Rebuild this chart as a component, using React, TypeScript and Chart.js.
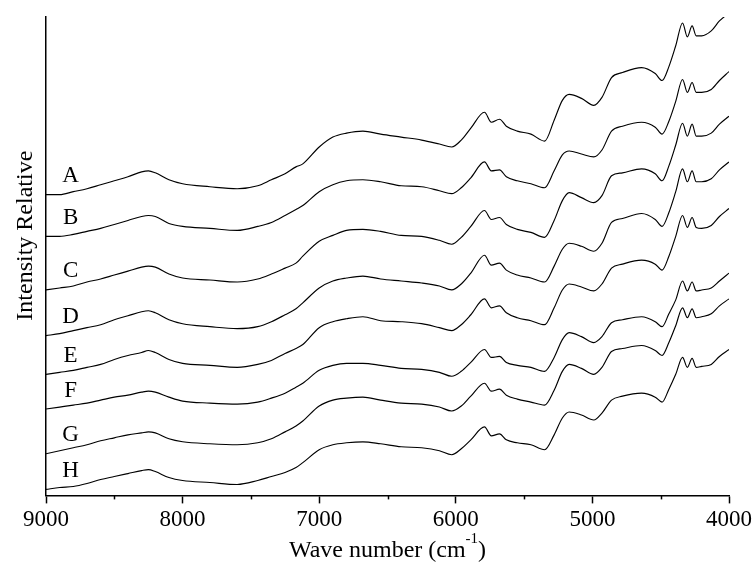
import { useEffect, useRef } from "react";
import { Chart, registerables } from "chart.js";

Chart.register(...registerables);

// Wave numbers (cm-1), read left to right (axis is reversed)
const wavenumbers = [
  9000, 8900, 8800, 8700, 8600, 8500, 8400, 8300, 8250, 8200,
  8100, 8000, 7800, 7600, 7450, 7350, 7250, 7170, 7120, 7000,
  6900, 6800, 6680, 6550, 6400, 6250, 6120, 6030, 5960, 5890,
  5790, 5740, 5680, 5630, 5550, 5450, 5350, 5280, 5220, 5170,
  5080, 4990, 4930, 4860, 4780, 4640, 4540, 4490, 4440, 4390,
  4340, 4305, 4270, 4240, 4200, 4130, 4070, 4000,
];

const seriesNames = ["A", "B", "C", "D", "E", "F", "G", "H"];

const seriesA = [
  3.03, 3.03, 3.06, 3.09, 3.13, 3.17, 3.21, 3.26, 3.27, 3.25,
  3.18, 3.14, 3.11, 3.09, 3.12, 3.18, 3.24, 3.31, 3.34, 3.51,
  3.61, 3.65, 3.67, 3.64, 3.61, 3.58, 3.54, 3.51, 3.58, 3.70,
  3.86, 3.76, 3.79, 3.72, 3.67, 3.64, 3.57, 3.78, 3.98, 4.04,
  4.00, 3.93, 4.01, 4.21, 4.26, 4.31, 4.25, 4.18, 4.32, 4.53,
  4.76, 4.62, 4.73, 4.63, 4.63, 4.68, 4.78, 4.86,
];
const seriesB = [
  2.61, 2.61, 2.63, 2.66, 2.69, 2.73, 2.77, 2.81, 2.82, 2.81,
  2.74, 2.71, 2.69, 2.67, 2.71, 2.75, 2.82, 2.88, 2.92, 3.06,
  3.13, 3.17, 3.18, 3.16, 3.12, 3.11, 3.07, 3.04, 3.10, 3.20,
  3.36, 3.27, 3.28, 3.21, 3.17, 3.14, 3.10, 3.27, 3.43, 3.47,
  3.44, 3.41, 3.48, 3.67, 3.72, 3.76, 3.71, 3.64, 3.77, 3.97,
  4.19, 4.06, 4.16, 4.06, 4.06, 4.09, 4.18, 4.27,
];
const seriesC = [
  2.07, 2.09, 2.11, 2.15, 2.18, 2.22, 2.26, 2.30, 2.31, 2.30,
  2.23, 2.19, 2.17, 2.15, 2.18, 2.23, 2.29, 2.34, 2.41, 2.56,
  2.62, 2.67, 2.68, 2.66, 2.62, 2.61, 2.57, 2.53, 2.60, 2.71,
  2.87, 2.78, 2.80, 2.73, 2.68, 2.65, 2.60, 2.77, 2.97, 3.05,
  3.00, 2.95, 3.02, 3.22, 3.25, 3.29, 3.24, 3.17, 3.32, 3.53,
  3.75, 3.62, 3.74, 3.62, 3.62, 3.65, 3.74, 3.82,
];
const seriesD = [
  1.61, 1.63, 1.66, 1.69, 1.72, 1.77, 1.81, 1.85, 1.86, 1.84,
  1.77, 1.73, 1.70, 1.68, 1.70, 1.75, 1.82, 1.88, 1.94, 2.09,
  2.16, 2.19, 2.21, 2.18, 2.16, 2.14, 2.11, 2.07, 2.13, 2.24,
  2.42, 2.32, 2.34, 2.27, 2.22, 2.19, 2.15, 2.31, 2.48, 2.54,
  2.51, 2.46, 2.54, 2.75, 2.79, 2.84, 2.78, 2.71, 2.85, 3.06,
  3.29, 3.16, 3.27, 3.16, 3.16, 3.19, 3.28, 3.36,
];
const seriesE = [
  1.22, 1.24, 1.26, 1.29, 1.32, 1.37, 1.41, 1.44, 1.46, 1.44,
  1.37, 1.33, 1.31, 1.29, 1.32, 1.36, 1.43, 1.48, 1.52, 1.69,
  1.75, 1.78, 1.80, 1.76, 1.75, 1.73, 1.69, 1.66, 1.72, 1.82,
  1.98, 1.89, 1.91, 1.84, 1.79, 1.76, 1.72, 1.89, 2.07, 2.13,
  2.10, 2.06, 2.13, 2.29, 2.33, 2.37, 2.33, 2.27, 2.41, 2.61,
  2.82, 2.70, 2.80, 2.70, 2.69, 2.72, 2.81, 2.89,
];
const seriesF = [
  0.87, 0.89, 0.91, 0.93, 0.96, 0.99, 1.01, 1.04, 1.05, 1.04,
  0.99, 0.95, 0.93, 0.92, 0.94, 0.98, 1.03, 1.09, 1.13, 1.26,
  1.31, 1.33, 1.33, 1.31, 1.28, 1.27, 1.24, 1.20, 1.25, 1.34,
  1.47, 1.39, 1.40, 1.34, 1.31, 1.29, 1.25, 1.39, 1.57, 1.64,
  1.60, 1.54, 1.60, 1.74, 1.77, 1.80, 1.75, 1.70, 1.83, 1.97,
  2.16, 2.06, 2.15, 2.06, 2.07, 2.09, 2.16, 2.24,
];
const seriesG = [
  0.42, 0.45, 0.48, 0.51, 0.55, 0.58, 0.61, 0.63, 0.64, 0.63,
  0.57, 0.54, 0.52, 0.51, 0.53, 0.57, 0.64, 0.70, 0.75, 0.90,
  0.96, 0.98, 0.99, 0.96, 0.93, 0.92, 0.89, 0.85, 0.90, 1.00,
  1.13, 1.05, 1.07, 1.01, 0.97, 0.94, 0.91, 1.06, 1.25, 1.32,
  1.28, 1.22, 1.29, 1.45, 1.48, 1.51, 1.46, 1.41, 1.54, 1.71,
  1.89, 1.79, 1.88, 1.79, 1.80, 1.83, 1.91, 1.98,
];
const seriesH = [
  0.06, 0.08, 0.09, 0.12, 0.16, 0.19, 0.22, 0.25, 0.26, 0.24,
  0.18, 0.15, 0.13, 0.11, 0.15, 0.19, 0.23, 0.28, 0.33, 0.46,
  0.51, 0.53, 0.54, 0.52, 0.49, 0.48, 0.45, 0.41, 0.47, 0.56,
  0.69, 0.60, 0.62, 0.56, 0.53, 0.51, 0.46, 0.61, 0.78, 0.84,
  0.81, 0.76, 0.83, 0.96, 1.00, 1.03, 0.99, 0.94, 1.07, 1.22,
  1.39, 1.29, 1.38, 1.29, 1.30, 1.32, 1.40, 1.47,
];

const majorTicks = [9000, 8000, 7000, 6000, 5000, 4000];
const minorTicks = [8500, 7500, 6500, 5500, 4500];
const labelWavenumber = 8820;

const xTitleMain = "Wave number (cm";
const xTitleSup = "-1";
const xTitleEnd = ")";
const yTitle = "Intensity Relative";

const FONT = "'Liberation Serif', 'Times New Roman', serif";

export default function App() {
  const ref = useRef<HTMLCanvasElement>(null);

  useEffect(() => {
    const series = [seriesA, seriesB, seriesC, seriesD, seriesE, seriesF, seriesG, seriesH];

    const annotations = {
      id: "annotations",
      afterDatasetsDraw(chart: any) {
        const ctx = chart.ctx;
        const xs = chart.scales.x;
        ctx.save();
        ctx.fillStyle = "#000";
        ctx.font = `23px ${FONT}`;
        ctx.textAlign = "center";
        ctx.textBaseline = "middle";
        const lx = xs.getPixelForValue(labelWavenumber);
        chart.data.datasets.forEach((ds: any, i: number) => {
          const meta = chart.getDatasetMeta(i);
          const y0 = meta.data[0].y;
          ctx.fillText(ds.label, lx, y0 - 18.5);
        });
        ctx.restore();
      },
      afterDraw(chart: any) {
        const ctx = chart.ctx;
        const xs = chart.scales.x;
        const area = chart.chartArea;
        ctx.save();
        // minor ticks
        ctx.strokeStyle = "#000";
        ctx.lineWidth = 1.5;
        minorTicks.forEach((v) => {
          const px = Math.round(xs.getPixelForValue(v)) + 0.5;
          ctx.beginPath();
          ctx.moveTo(px, area.bottom);
          ctx.lineTo(px, area.bottom + 4);
          ctx.stroke();
        });
        // x title with superscript
        ctx.fillStyle = "#000";
        ctx.textBaseline = "alphabetic";
        ctx.textAlign = "left";
        const big = `24px ${FONT}`;
        const small = `15px ${FONT}`;
        ctx.font = big;
        const w1 = ctx.measureText(xTitleMain).width;
        const w3 = ctx.measureText(xTitleEnd).width;
        ctx.font = small;
        const w2 = ctx.measureText(xTitleSup).width;
        const total = w1 + w2 + w3;
        const cx = (area.left + area.right) / 2;
        let x = cx - total / 2;
        const baseY = area.bottom + 62;
        ctx.font = big;
        ctx.fillText(xTitleMain, x, baseY);
        x += w1;
        ctx.font = small;
        ctx.fillText(xTitleSup, x, baseY - 14);
        x += w2;
        ctx.font = big;
        ctx.fillText(xTitleEnd, x, baseY);
        // y title
        ctx.translate(area.left - 14, (area.top + area.bottom) / 2 - 20.5);
        ctx.rotate(-Math.PI / 2);
        ctx.textAlign = "center";
        ctx.font = big;
        ctx.fillText(yTitle, 0, 0);
        ctx.restore();
      },
    };

    const chart = new Chart(ref.current as HTMLCanvasElement, {
      type: "line",
      data: {
        datasets: series.map((s, i) => ({
          label: seriesNames[i],
          data: wavenumbers.map((w, j) => ({ x: w, y: s[j] })),
          borderColor: "#000",
          borderWidth: 1.15,
          pointRadius: 0,
          fill: false,
          cubicInterpolationMode: "monotone" as const,
        })),
      },
      options: {
        responsive: false,
        animation: false,
        layout: { padding: { left: 46, right: 25, top: 17, bottom: 31 } },
        plugins: {
          legend: { display: false },
          tooltip: { enabled: false },
          title: { display: false },
        },
        scales: {
          x: {
            type: "linear",
            reverse: true,
            min: 4000,
            max: 9000,
            afterBuildTicks: (scale: any) => {
              scale.ticks = majorTicks.map((v) => ({ value: v }));
            },
            ticks: {
              font: { family: FONT, size: 23 },
              color: "#000",
              padding: 3,
              maxRotation: 0,
              autoSkip: false,
              callback: (v: any) => String(v),
            },
            grid: {
              display: true,
              drawOnChartArea: false,
              drawTicks: true,
              tickLength: 8,
              tickColor: "#000",
              tickWidth: 1.5,
            },
            border: { display: true, color: "#000", width: 1.5 },
          },
          y: {
            min: 0,
            max: 4.82,
            ticks: { display: false },
            grid: { display: false, drawOnChartArea: false, drawTicks: false },
            border: { display: true, color: "#000", width: 1.5 },
          },
        },
      },
      plugins: [annotations],
    });
    return () => chart.destroy();
  }, []);

  return (
    <div style={{ position: "fixed", left: 0, top: 0, width: 755, height: 568, background: "#fff" }}>
      <canvas ref={ref} width={755} height={568} style={{ display: "block" }} />
    </div>
  );
}
